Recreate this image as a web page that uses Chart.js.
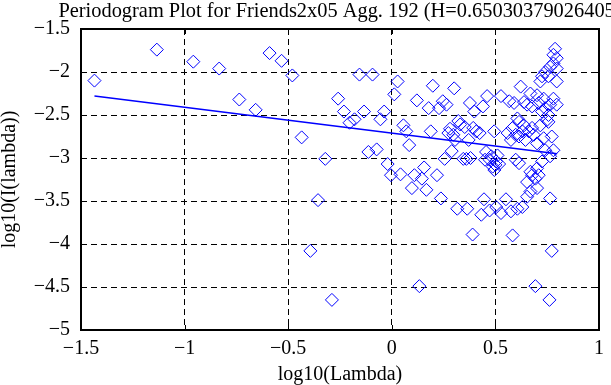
<!DOCTYPE html>
<html>
<head>
<meta charset="utf-8">
<script src="https://cdn.jsdelivr.net/npm/chart.js@4.4.0/dist/chart.umd.min.js"></script>
<style>
  html, body { margin: 0; padding: 0; background: #fff; }
  #wrap { width: 611px; height: 385px; }
</style>
</head>
<body>
<div id="wrap"><canvas id="myChart" width="611" height="385"></canvas></div>
<script>
// log10(Lambda) / log10(I(lambda)) pairs
const logLambda = [
  -1.435, -1.134, -0.958, -0.833, -0.736, -0.657, -0.590, -0.532, -0.480, -0.435,
  -0.393, -0.356, -0.321, -0.289, -0.259, -0.231, -0.204, -0.180, -0.156, -0.134,
  -0.113, -0.093, -0.073, -0.055, -0.037, -0.020, -0.004, 0.012, 0.028, 0.042,
  0.056, 0.070, 0.084, 0.097, 0.109, 0.121, 0.133, 0.145, 0.156, 0.167,
  0.178, 0.188, 0.198, 0.218, 0.228, 0.237, 0.246, 0.255, 0.264, 0.273,
  0.281, 0.289, 0.297, 0.301, 0.305, 0.316, 0.321, 0.330, 0.345, 0.352,
  0.360, 0.364, 0.371, 0.377, 0.380, 0.390, 0.393, 0.398, 0.408, 0.424,
  0.432, 0.440, 0.445, 0.450, 0.455, 0.460, 0.472, 0.472, 0.480, 0.487,
  0.494, 0.495, 0.500, 0.503, 0.504, 0.510, 0.518, 0.527, 0.527, 0.551,
  0.559, 0.567, 0.575, 0.575, 0.583, 0.583, 0.590, 0.598, 0.598, 0.606,
  0.606, 0.614, 0.614, 0.614, 0.622, 0.630, 0.630, 0.638, 0.638, 0.645,
  0.653, 0.653, 0.653, 0.661, 0.669, 0.669, 0.669, 0.677, 0.677, 0.677,
  0.685, 0.693, 0.693, 0.701, 0.701, 0.701, 0.701, 0.709, 0.709, 0.717,
  0.717, 0.725, 0.725, 0.725, 0.733, 0.733, 0.740, 0.740, 0.740, 0.748,
  0.756, 0.756, 0.756, 0.761, 0.764, 0.764, 0.764, 0.764, 0.772, 0.772,
  0.780, 0.780, 0.780, 0.780, 0.788, 0.796, 0.796, 0.796, 0.796
];
const logPeriodogram = [
  -2.10, -1.74, -1.88, -1.96, -2.32, -2.44, -1.78, -1.87, -2.04, -2.76,
  -4.08, -3.49, -3.01, -4.65, -2.31, -2.46, -2.59, -2.55, -2.03, -2.46,
  -2.93, -2.03, -2.90, -2.55, -2.46, -3.07, -3.20, -2.26, -2.11, -3.19,
  -2.62, -2.69, -2.85, -3.35, -3.20, -2.33, -4.49, -3.24, -3.11, -3.37,
  -2.42, -2.69, -2.16, -3.20, -2.42, -3.47, -2.34, -3.01, -2.38, -2.71,
  -2.66, -2.92, -2.73, -2.19, -2.79, -3.59, -2.57, -2.61, -3.01, -2.64,
  -3.01, -3.59, -2.79, -2.36, -3.00, -3.89, -2.65, -2.46, -2.69, -2.71,
  -3.66, -2.40, -3.48, -3.02, -2.93, -2.28, -3.02, -3.61, -2.98, -3.10,
  -2.69, -3.14, -3.08, -3.04, -3.57, -2.97, -3.07, -2.28, -3.64, -3.48,
  -2.71, -2.34, -2.79, -3.62, -2.65, -3.90, -2.36, -2.73, -3.02, -2.54,
  -3.59, -2.58, -3.06, -2.75, -2.17, -2.69, -3.57, -2.35, -2.62, -2.79,
  -2.38, -3.28, -3.45, -2.69, -2.25, -3.16, -3.39, -2.40, -2.65, -3.20,
  -2.73, -3.24, -4.49, -2.27, -2.83, -3.12, -3.35, -2.36, -3.20, -2.11,
  -2.62, -2.05, -2.46, -3.04, -2.31, -2.77, -2.00, -2.42, -2.91, -2.56,
  -2.05, -2.50, -2.58, -4.65, -1.94, -2.38, -2.98, -3.47, -2.75, -4.08,
  -1.80, -1.90, -2.31, -2.91, -1.73, -1.84, -1.96, -2.11, -2.38
];

// least squares line (slope 1-2H)
const fitX = [-1.435, 0.798];
const fitY = [-2.280, -2.951];

const xTickValues = [-1.5, -1, -0.5, 0, 0.5, 1];
const yTickValues = [-5, -4.5, -4, -3.5, -3, -2.5, -2, -1.5];

const titulo = 'Periodogram Plot for Friends2x05 Agg. 192 (H=0.65030379026405)';
const fuente = 'Liberation Serif';

function menos(v){
    return String(v).replace('-', '\u2212');
}

const marco = {
    id: 'marco',
    afterDraw(chart){
        const ctx = chart.ctx;
        const a = chart.chartArea;
        const sx = chart.scales.x;
        const sy = chart.scales.y;
        ctx.save();
        ctx.strokeStyle = '#000';
        ctx.lineWidth = 1;
        ctx.setLineDash([]);
        ctx.beginPath();
        sx.ticks.forEach(t => {
            const px = Math.round(sx.getPixelForValue(t.value)) + 0.5;
            ctx.moveTo(px, a.top); ctx.lineTo(px, a.top + 5);
            ctx.moveTo(px, a.bottom); ctx.lineTo(px, a.bottom - 5);
        });
        sy.ticks.forEach(t => {
            const py = Math.round(sy.getPixelForValue(t.value)) + 0.5;
            ctx.moveTo(a.left, py); ctx.lineTo(a.left + 5, py);
            ctx.moveTo(a.right, py); ctx.lineTo(a.right - 5, py);
        });
        ctx.stroke();
        ctx.lineWidth = 2;
        ctx.strokeRect(a.left, a.top, a.right - a.left, a.bottom - a.top);
        // titulo centrado sobre el area del grafico
        ctx.fillStyle = '#000';
        ctx.font = '20.4px "' + fuente + '"';
        ctx.textAlign = 'center';
        ctx.textBaseline = 'top';
        ctx.fillText(titulo, (a.left + a.right) / 2, 1);
        ctx.restore();
    }
};

function iniciarApp(){
    const puntos = logLambda.map((x, i) => ({ x: x, y: logPeriodogram[i] }));
    const recta = fitX.map((x, i) => ({ x: x, y: fitY[i] }));

    const ctx = document.getElementById('myChart').getContext('2d');
    new Chart(ctx, {
        type: 'scatter',
        data: {
            datasets: [{
                label: 'periodogram',
                data: puntos,
                pointStyle: 'rectRot',
                pointRadius: 6.5,
                pointBorderWidth: 1,
                borderColor: '#0000ff',
                backgroundColor: 'rgba(0,0,0,0)'
            }, {
                type: 'line',
                label: 'fit',
                data: recta,
                borderColor: '#0000ff',
                borderWidth: 1.5,
                pointRadius: 0,
                fill: false
            }]
        },
        options: {
            responsive: false,
            animation: false,
            layout: { padding: { top: 29, right: 3, left: 0, bottom: 0 } },
            plugins: {
                legend: { display: false },
                tooltip: { enabled: false }
            },
            scales: {
                x: {
                    type: 'linear',
                    min: -1.5,
                    max: 1,
                    afterBuildTicks: scale => { scale.ticks = xTickValues.map(v => ({ value: v })); },
                    afterFit: scale => { scale.height = 55; },
                    grid: { color: '#000', lineWidth: 1, drawTicks: false },
                    border: { display: false, dash: [6, 4] },
                    ticks: {
                        padding: 7,
                        color: '#000',
                        font: { family: fuente, size: 20 },
                        callback: v => menos(v)
                    },
                    title: {
                        display: true,
                        text: 'log10(Lambda)',
                        color: '#000',
                        font: { family: fuente, size: 20, lineHeight: 1 },
                        padding: { top: 0, bottom: 0 }
                    }
                },
                y: {
                    type: 'linear',
                    min: -5,
                    max: -1.5,
                    afterBuildTicks: scale => { scale.ticks = yTickValues.map(v => ({ value: v })); },
                    afterFit: scale => { scale.width = 81; },
                    grid: { color: '#000', lineWidth: 1, drawTicks: false },
                    border: { display: false, dash: [6, 4] },
                    ticks: {
                        padding: 11,
                        color: '#000',
                        font: { family: fuente, size: 20 },
                        callback: v => menos(v)
                    },
                    title: {
                        display: true,
                        text: 'log10(I(lambda))',
                        color: '#000',
                        font: { family: fuente, size: 20, lineHeight: 1 },
                        padding: { top: 0, bottom: 0 }
                    }
                }
            }
        },
        plugins: [marco]
    });
}

document.addEventListener('DOMContentLoaded', function(){
    iniciarApp();
});
</script>
</body>
</html>
